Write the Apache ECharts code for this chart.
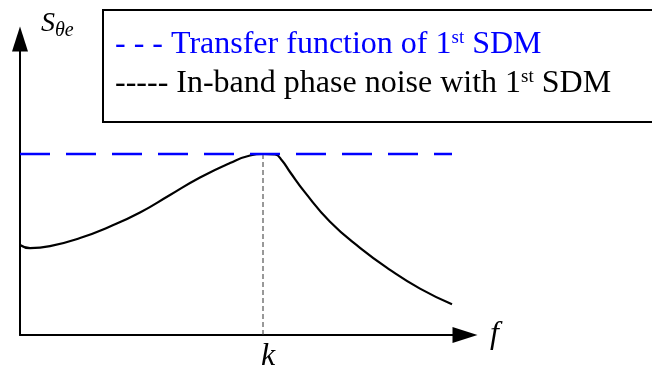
<!DOCTYPE html>
<html>
<head>
<meta charset="utf-8">
<script src="https://cdn.jsdelivr.net/npm/echarts@6/dist/echarts.min.js"></script>
<style>
  html, body { margin: 0; padding: 0; background: #fff; }
  #main { width: 652px; height: 370px; }
</style>
</head>
<body>
<div id="main"></div>
<script>
// In-band phase noise of a PLL with a 1st-order SDM (arbitrary units)
const noiseFreq  = [0, 10, 30, 60, 90, 120, 150, 180, 210, 230, 243, 255, 262, 270, 285, 310, 340, 370, 400, 432];
const noiseLevel = [90, 86.8, 88.8, 97, 108.5, 122.5, 140, 157.5, 172, 179.5, 181, 180.5, 174.5, 163, 142.6, 113.3, 87.2, 65.2, 46.4, 30.7];

// Flat transfer function level of the 1st SDM
const transferFreq  = [0, 432];
const transferLevel = [181, 181];

// Corner frequency k
const cornerFreq = 243;
const cornerLevel = 181;

// Axis ranges
const freqMax = 445;
const levelMax = 296;

// Legend entries
const legendMain = ['- - - Transfer function of 1', '----- In-band phase noise with 1'];
const legendSup = 'st';
const legendTail = ' SDM';
const axisNames = { y: 'S', ySub: 'θe', x: 'f', corner: 'k' };

const serif = '"Liberation Serif", "Times New Roman", serif';

const zip = (xs, ys) => xs.map((x, i) => [x, ys[i]]);

const chart = echarts.init(document.getElementById('main'), null, { renderer: 'canvas' });

chart.setOption({
  animation: false,
  backgroundColor: '#fff',
  grid: { left: 20, right: 187, top: 39, bottom: 35, containLabel: false },
  xAxis: {
    type: 'value', min: 0, max: freqMax,
    axisLine: { show: true, lineStyle: { color: '#000', width: 2 }, symbol: ['none', 'triangle'], symbolSize: [16, 25] },
    axisTick: { show: false }, axisLabel: { show: false }, splitLine: { show: false }
  },
  yAxis: {
    type: 'value', min: 0, max: levelMax,
    axisLine: { show: true, lineStyle: { color: '#000', width: 2 }, symbol: ['none', 'triangle'], symbolSize: [16, 25] },
    axisTick: { show: false }, axisLabel: { show: false }, splitLine: { show: false }
  },
  series: [
    {
      name: 'corner', type: 'line', silent: true, symbol: 'none', z: 1,
      data: [[cornerFreq, 0], [cornerFreq, cornerLevel]],
      lineStyle: { color: '#333', width: 1, type: [5, 3] }
    },
    {
      name: 'noise', type: 'line', silent: true, symbol: 'none', z: 2,
      smooth: 0.5,
      data: zip(noiseFreq, noiseLevel),
      lineStyle: { color: '#000', width: 2.2 }
    },
    {
      name: 'transfer', type: 'line', silent: true, symbol: 'none', z: 3,
      data: zip(transferFreq, transferLevel),
      lineStyle: { color: '#0000ff', width: 2.5, type: [30, 16] }
    }
  ]
});

const kPx = chart.convertToPixel({ xAxisIndex: 0 }, cornerFreq);

function legendLine(y, color, main) {
  return {
    type: 'text', x: 115, y: y, z: 10,
    style: {
      text: '{m|' + main + '}{p|' + legendSup + '}{m|' + legendTail + '}',
      verticalAlign: 'top', align: 'left',
      fill: color,
      rich: {
        m: { fontFamily: serif, fontSize: 32, lineHeight: 32, fill: color },
        p: { fontFamily: serif, fontSize: 19, lineHeight: 15, verticalAlign: 'top', fill: color }
      }
    }
  };
}

chart.setOption({
  graphic: [
    {
      type: 'rect', z: 5,
      shape: { x: 103, y: 10, width: 600, height: 112 },
      style: { fill: '#fff', stroke: '#000', lineWidth: 2 }
    },
    legendLine(29, '#0000ff', legendMain[0]),
    legendLine(68, '#000', legendMain[1]),
    {
      type: 'text', x: 41, y: 24, z: 10,
      style: { text: axisNames.y, font: 'italic 28px ' + serif, fill: '#000', verticalAlign: 'middle', align: 'left' }
    },
    {
      type: 'text', x: 55, y: 31, z: 10,
      style: { text: axisNames.ySub, font: 'italic 20px ' + serif, fill: '#000', verticalAlign: 'middle', align: 'left' }
    },
    {
      type: 'text', x: kPx + 5, y: 357, z: 10,
      style: { text: axisNames.corner, font: 'italic 32px ' + serif, fill: '#000', verticalAlign: 'middle', align: 'center' }
    },
    {
      type: 'text', x: 490, y: 334.5, z: 10,
      style: { text: axisNames.x, font: 'italic 32px ' + serif, fill: '#000', verticalAlign: 'middle', align: 'left' }
    }
  ]
});
</script>
</body>
</html>
